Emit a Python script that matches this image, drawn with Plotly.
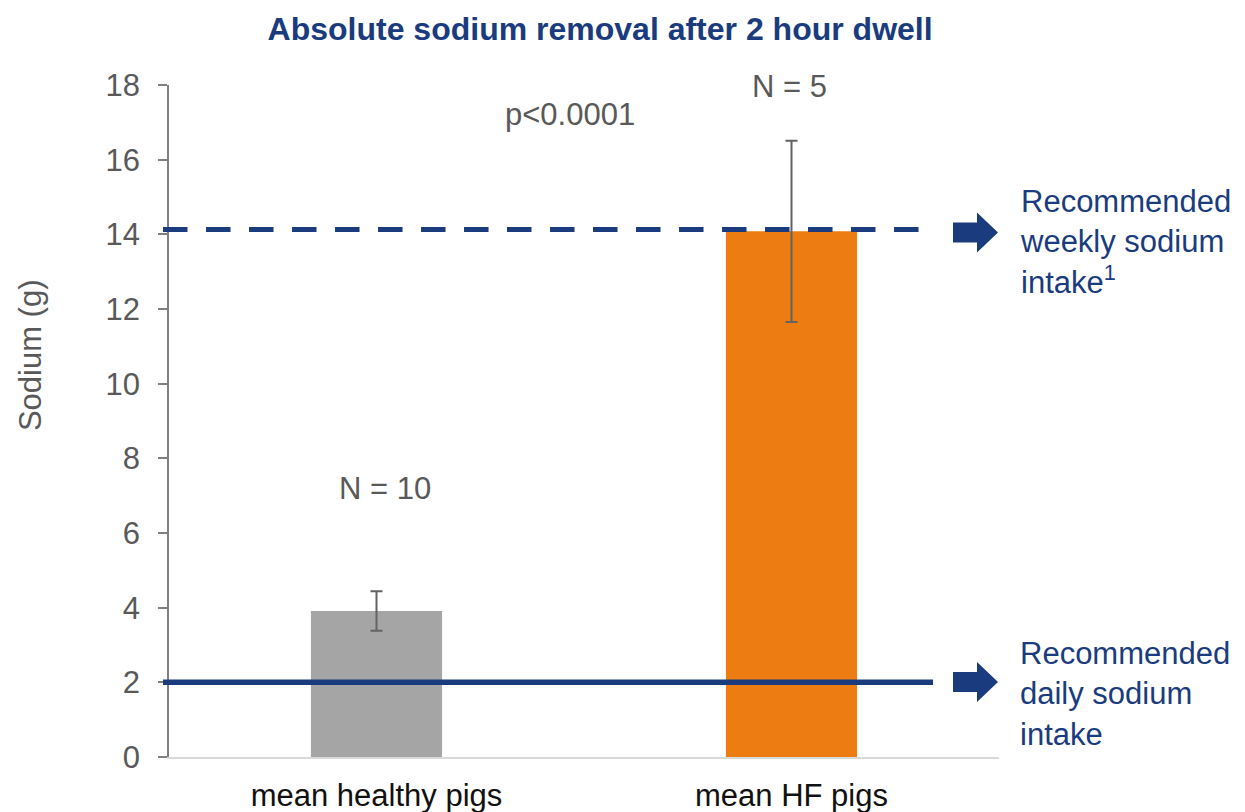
import plotly.graph_objects as go

# ---- data ----
categories = ["mean healthy pigs", "mean HF pigs"]
sodium_means = [3.91, 14.08]
sodium_err = [0.53, 2.43]
bar_colors = ["#A5A5A5", "#ED7D12"]
group_n = ["N = 10", "N = 5"]
n_label_y = [7.2, 17.95]
p_text = "p<0.0001"
p_y = 17.2
daily_intake = 2.0
weekly_intake = 14.13
y_ticks = [0, 2, 4, 6, 8, 10, 12, 14, 16, 18]

NAVY = "#1A3C7E"
GRAY_TXT = "#595959"
FONT = "Liberation Sans, Arial, sans-serif"
FS = 31

fig = go.Figure()
fig.add_trace(go.Bar(
    x=categories, y=sodium_means, width=0.316,
    marker=dict(color=bar_colors, line=dict(width=0)),
    error_y=dict(type="data", array=sodium_err, visible=True,
                 color="#636363", thickness=2, width=6),
    showlegend=False, hoverinfo="skip",
))

# reference lines
fig.add_shape(type="line", xref="paper", yref="y", x0=-0.0072, x1=0.9205,
              y0=weekly_intake, y1=weekly_intake,
              line=dict(color=NAVY, width=5, dash="24.5px,18.5px"), layer="above")
fig.add_shape(type="line", xref="paper", yref="y", x0=-0.0072, x1=0.9205,
              y0=daily_intake, y1=daily_intake,
              line=dict(color=NAVY, width=5.5), layer="above")

# block arrows (paper x, data y)
def arrow_path(yc):
    xb0, xh, xt = 0.9446, 0.9735, 0.9988
    hb, hh = 0.27, 0.535
    return (f"M {xb0} {yc-hb} L {xh} {yc-hb} L {xh} {yc-hh} L {xt} {yc} "
            f"L {xh} {yc+hh} L {xh} {yc+hb} L {xb0} {yc+hb} Z")

for yc in [weekly_intake - 0.08, daily_intake + 0.01]:
    fig.add_shape(type="path", xref="paper", yref="y", path=arrow_path(yc),
                  fillcolor=NAVY, line=dict(width=0), layer="above")

# right-hand text
fig.add_annotation(xref="paper", yref="y", x=1.0229, y=13.8, xanchor="left",
                   yanchor="middle", align="left", showarrow=False,
                   text="Recommended<br>weekly sodium<br>intake<sup>1</sup>",
                   font=dict(family=FONT, size=FS, color=NAVY))
fig.add_annotation(xref="paper", yref="y", x=1.0229, y=1.69, xanchor="left",
                   yanchor="middle", align="left", showarrow=False,
                   text="Recommended<br>daily sodium<br>intake",
                   font=dict(family=FONT, size=FS, color=NAVY))

# N labels and p value
for cat, txt, yy in zip(categories, group_n, n_label_y):
    fig.add_annotation(x=cat, y=yy, text=txt, showarrow=False,
                       xshift=8 if cat == categories[0] else -2,
                       font=dict(family=FONT, size=FS, color=GRAY_TXT))
fig.add_annotation(x=0.5, y=p_y, xref="x", text=p_text, showarrow=False,
                   xshift=-14, font=dict(family=FONT, size=FS, color=GRAY_TXT))

# y-axis title (placed like the reference, above the axis middle)
fig.add_annotation(xref="paper", yref="paper", x=-0.1675, y=0.598,
                   xanchor="center", yanchor="middle", textangle=-90,
                   text="Sodium (g)", showarrow=False,
                   font=dict(family=FONT, size=FS, color=GRAY_TXT))

fig.update_layout(
    width=1245, height=812,
    margin=dict(l=169, r=246, t=85, b=55),
    paper_bgcolor="white", plot_bgcolor="white",
    font=dict(family=FONT, size=FS, color=GRAY_TXT),
    title=dict(text="<b>Absolute sodium removal after 2 hour dwell</b>",
               x=0.482, xanchor="center", y=0.964, yanchor="middle",
               font=dict(family=FONT, size=32, color=NAVY)),
    bargap=0.5,
)
fig.update_yaxes(range=[0, 18], tickvals=y_ticks, showgrid=False, zeroline=False,
                 showline=True, linecolor="#808080", linewidth=1.5,
                 ticks="outside", ticklen=9, tickcolor="#808080", tickwidth=1.5,
                 ticklabelstandoff=12, automargin=False,
                 tickfont=dict(family=FONT, size=FS, color=GRAY_TXT))
fig.update_xaxes(showgrid=False, zeroline=False, showline=True,
                 linecolor="#D9D9D9", linewidth=1.5, ticks="",
                 ticklabelstandoff=10, automargin=False,
                 tickfont=dict(family=FONT, size=FS, color="#111111"))

fig.write_html("out.html", config={"displayModeBar": False},
               post_script="document.body.style.margin='0';document.body.style.overflow='hidden';")
